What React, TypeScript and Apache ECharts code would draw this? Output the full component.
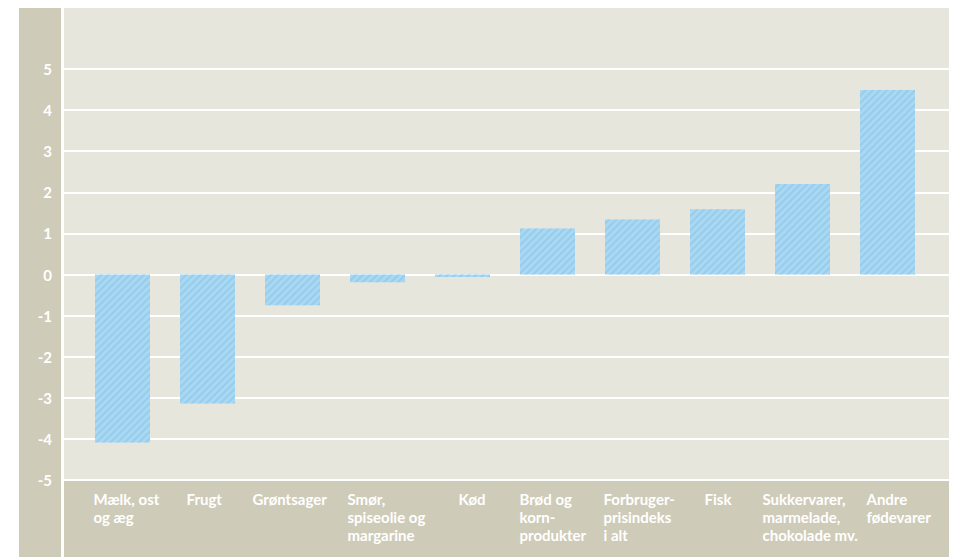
import React, { useEffect, useRef } from "react";
import * as echarts from "echarts";

const categories = [
  "Mælk, ost\nog æg",
  "Frugt",
  "Grøntsager",
  "Smør,\nspiseolie og\nmargarine",
  "Kød",
  "Brød og\nkorn-\nprodukter",
  "Forbruger-\nprisindeks\ni alt",
  "Fisk",
  "Sukkervarer,\nmarmelade,\nchokolade mv.",
  "Andre\nfødevarer",
];
const values = [-4.09, -3.14, -0.75, -0.19, -0.06, 1.12, 1.34, 1.59, 2.2, 4.49];
const yMin = -5;
const yMax = 5;
const yInterval = 1;

// label left offsets (layout only)
const labelPads = [11, 19, 0, 10, 36, 12, 11, 27, 0, 19];

const BG = "#e7e6dc";
const STRIP = "#cfcbb9";
const FONT = "Lato";

export default function App() {
  const ref = useRef<HTMLDivElement>(null);
  useEffect(() => {
    const chart = echarts.init(ref.current!, undefined, { renderer: "svg" });
    const rich: Record<string, any> = {};
    labelPads.forEach((p, i) => {
      rich["p" + i] = {
        padding: [0, 0, 0, p],
        color: "#ffffff",
        fontWeight: "bold",
        fontSize: 15,
        fontFamily: FONT,
        lineHeight: 18,
      };
    });
    chart.setOption({
      animation: false,
      backgroundColor: "#ffffff",
      graphic: [
        { type: "rect", z: -10, shape: { x: 19, y: 8, width: 42, height: 549 }, style: { fill: STRIP } },
        { type: "rect", z: -10, shape: { x: 64, y: 8, width: 885, height: 471 }, style: { fill: BG } },
        { type: "rect", z: -10, shape: { x: 64, y: 481, width: 885, height: 76 }, style: { fill: STRIP } },
      ],
      grid: [
        { left: 64, right: 4, top: 69, bottom: 77 },
        { left: 80, right: 23, top: 69, bottom: 77 },
        { left: 40, right: 63, top: 69, bottom: 77 },
      ],
      xAxis: [
        { type: "value", gridIndex: 0, show: false },
        { type: "category", gridIndex: 1, data: categories, show: false },
        {
          type: "category",
          gridIndex: 2,
          data: categories,
          position: "bottom",
          axisLine: { show: false },
          axisTick: { show: false },
          splitLine: { show: false },
          axisLabel: {
            interval: 0,
            margin: 10,
            align: "left",
            verticalAlign: "top",
            rich,
            formatter: (v: string, i: number) =>
              v
                .split("\n")
                .map((l) => `{p${i}|${l}}`)
                .join("\n"),
          },
        },
      ],
      yAxis: [
        {
          type: "value",
          gridIndex: 0,
          min: yMin,
          max: yMax,
          interval: yInterval,
          axisLine: { show: false },
          axisTick: { show: false },
          splitLine: { lineStyle: { color: "#ffffff", width: 2 } },
          axisLabel: {
            color: "#ffffff",
            fontWeight: "bold",
            fontSize: 15,
            fontFamily: FONT,
            margin: 12,
          },
        },
        { type: "value", gridIndex: 1, min: yMin, max: yMax, show: false },
        { type: "value", gridIndex: 2, min: yMin, max: yMax, show: false },
      ],
      series: [
        {
          type: "bar",
          xAxisIndex: 1,
          yAxisIndex: 1,
          data: values,
          barWidth: 55,
          z: 5,
          itemStyle: {
            color: "#a9d8f2",
            decal: {
              symbol: "rect",
              symbolSize: 1,
              color: "rgba(140,196,232,0.6)",
              dashArrayX: [1, 0],
              dashArrayY: [2, 3],
              rotation: -Math.PI / 4,
            },
          },
        },
      ],
    });
    return () => chart.dispose();
  }, []);
  return (
    <div
      ref={ref}
      style={{ position: "absolute", left: 0, top: 0, width: 953, height: 557 }}
    />
  );
}
